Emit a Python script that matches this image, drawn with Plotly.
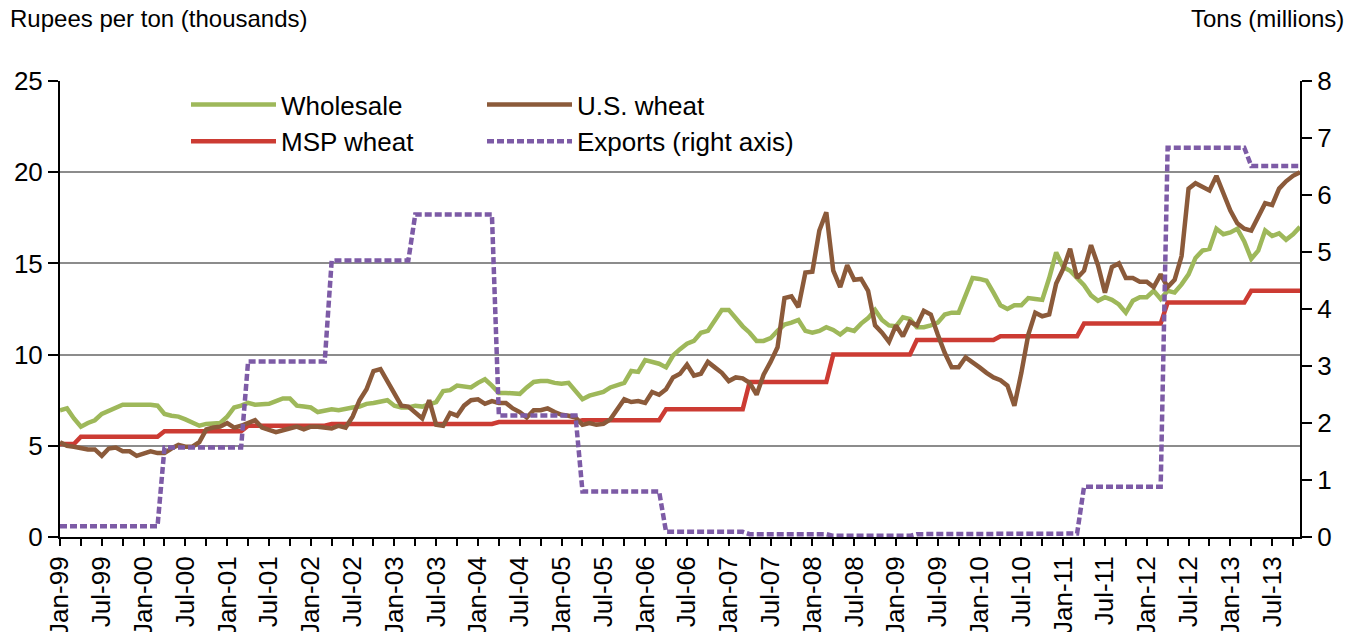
import plotly.graph_objects as go

# ---------------- data ----------------
tick_labels = ["Jan-99", "Jul-99", "Jan-00", "Jul-00", "Jan-01", "Jul-01", "Jan-02", "Jul-02",
               "Jan-03", "Jul-03", "Jan-04", "Jul-04", "Jan-05", "Jul-05", "Jan-06", "Jul-06",
               "Jan-07", "Jul-07", "Jan-08", "Jul-08", "Jan-09", "Jul-09", "Jan-10", "Jul-10",
               "Jan-11", "Jul-11", "Jan-12", "Jul-12", "Jan-13", "Jul-13"]

# monthly, Jan-99 .. Nov-13 (thousand rupees per ton)
wholesale = [
    6.95, 7.05, 6.5, 6.05, 6.25, 6.4, 6.75, 6.9, 7.05, 7.25,
    7.25, 7.25, 7.3, 7.25, 7.2, 6.75, 6.65, 6.6, 6.45, 6.3,
    6.1, 6.2, 6.2, 6.25, 6.6, 7.1, 7.2, 7.35, 7.25, 7.25,
    7.3, 7.45, 7.6, 7.6, 7.2, 7.15, 7.1, 6.85, 6.95, 7.0,
    6.95, 7.05, 7.1, 7.15, 7.3, 7.35, 7.4, 7.5, 7.2, 7.1,
    7.1, 7.2, 7.15, 7.25, 7.4, 8.0, 8.05, 8.3, 8.25, 8.2,
    8.45, 8.65, 8.3, 7.9, 7.9, 7.9, 7.85, 8.2, 8.5, 8.55,
    8.55, 8.45, 8.4, 8.45, 8.0, 7.55, 7.75, 7.85, 7.95, 8.2,
    8.35, 8.45, 9.1, 9.05, 9.7, 9.6, 9.5, 9.3, 9.95, 10.3,
    10.6, 10.75, 11.2, 11.3, 11.9, 12.45, 12.45, 12.0, 11.55, 11.2,
    10.75, 10.75, 10.9, 11.3, 11.65, 11.75, 11.9, 11.3, 11.2, 11.3,
    11.5, 11.35, 11.1, 11.4, 11.3, 11.7, 12.0, 12.45, 11.9, 11.6,
    11.55, 12.05, 11.95, 11.5, 11.5, 11.6, 11.75, 12.2, 12.3, 12.3,
    13.3, 14.2, 14.15, 14.05, 13.4, 12.7, 12.5, 12.7, 12.7, 13.1,
    13.05, 13.0, 14.2, 15.6, 14.8, 14.6, 14.2, 13.8, 13.25, 12.95,
    13.15, 13.0, 12.75, 12.3, 12.95, 13.15, 13.15, 13.5, 13.05, 13.5,
    13.4, 13.85, 14.4, 15.3, 15.7, 15.8, 16.9, 16.6, 16.7, 16.9,
    16.2, 15.25, 15.7, 16.8, 16.5, 16.65, 16.3, 16.6, 17.0,
]

us_wheat = [
    5.2, 5.0, 4.95, 4.85, 4.8, 4.8, 4.45, 4.85, 4.9, 4.7,
    4.7, 4.45, 4.6, 4.7, 4.6, 4.6, 4.85, 5.05, 4.95, 4.95,
    5.2, 5.9, 6.0, 6.05, 6.25, 6.0, 6.1, 6.25, 6.4, 6.0,
    5.85, 5.75, 5.85, 5.95, 6.05, 5.9, 6.05, 6.05, 6.0, 5.95,
    6.1, 6.0, 6.6, 7.5, 8.1, 9.1, 9.2, 8.5, 7.8, 7.2,
    7.15, 6.8, 6.5, 7.5, 6.15, 6.1, 6.8, 6.65, 7.2, 7.5,
    7.55, 7.3, 7.45, 7.35, 7.35, 7.05, 6.85, 6.55, 6.95, 6.95,
    7.05, 6.85, 6.7, 6.65, 6.55, 6.15, 6.25, 6.15, 6.2, 6.45,
    7.0, 7.55, 7.4, 7.45, 7.35, 7.95, 7.8, 8.1, 8.75, 8.95,
    9.45, 8.85, 8.95, 9.6, 9.3, 9.0, 8.55, 8.75, 8.7, 8.45,
    7.8, 8.9, 9.6, 10.4, 13.1, 13.2, 12.6, 14.5, 14.55, 16.8,
    17.8, 14.6, 13.7, 14.9, 14.1, 14.15, 13.5, 11.6, 11.2, 10.7,
    11.6, 11.0, 11.8, 11.6, 12.4, 12.2, 11.1, 10.1, 9.3, 9.3,
    9.85, 9.6, 9.3, 9.0, 8.75, 8.6, 8.3, 7.2, 9.0, 11.1,
    12.3, 12.1, 12.2, 13.9, 14.7, 15.8, 14.2, 14.6, 16.0, 14.9,
    13.4, 14.8, 15.0, 14.2, 14.2, 14.0, 14.0, 13.7, 14.4, 13.7,
    14.1, 15.4, 19.1, 19.4, 19.2, 19.0, 19.8, 18.9, 17.9, 17.2,
    16.9, 16.8, 17.5, 18.3, 18.2, 19.1, 19.5, 19.8, 20.0,
]

# minimum support price, changes each April
msp_wheat = ([5.1] * 3 + [5.5] * 12 + [5.8] * 12 + [6.1] * 12 + [6.2] * 24 + [6.3] * 12 +
             [6.4] * 12 + [7.0] * 12 + [8.5] * 12 + [10.0] * 12 + [10.8] * 12 + [11.0] * 12 +
             [11.7] * 12 + [12.85] * 12 + [13.5] * 8)

# exports, million tons per fiscal year (Apr-Mar)
exports = ([0.19] * 15 + [1.57] * 12 + [3.08] * 12 + [4.85] * 12 + [5.66] * 12 + [2.13] * 12 +
           [0.80] * 12 + [0.09] * 12 + [0.05] * 12 + [0.02] * 12 + [0.05] * 12 + [0.06] * 12 +
           [0.88] * 12 + [6.83] * 12 + [6.51] * 8)

months = list(range(len(wholesale)))

# ---------------- figure ----------------
FONT = "Liberation Sans, Arial, Helvetica, sans-serif"
OFF = 8                               # page body margin of the html output
PL, PT, PW, PH = 60, 81, 1240, 456    # plot area in page pixels

fig = go.Figure()
fig.add_trace(go.Scatter(x=months, y=wholesale, name="Wholesale", mode="lines",
                         line=dict(color="#9EB85A", width=4.5), legend="legend"))
fig.add_trace(go.Scatter(x=months, y=msp_wheat, name="MSP wheat", mode="lines",
                         line=dict(color="#CC3B33", width=4.5), legend="legend"))
fig.add_trace(go.Scatter(x=months, y=us_wheat, name="U.S. wheat", mode="lines",
                         line=dict(color="#8B5A3A", width=4.5), legend="legend2"))
fig.add_trace(go.Scatter(x=months, y=exports, name="Exports (right axis)", mode="lines",
                         line=dict(color="#7D5BA6", width=4.5, dash="7px,3px"),
                         yaxis="y2", legend="legend2"))

tickvals = list(range(0, len(months), 3))
ticktext = [tick_labels[v // 6] if v % 6 == 0 else "" for v in tickvals]

legend_common = dict(xref="paper", yref="paper", xanchor="left", yanchor="top",
                     bgcolor="rgba(0,0,0,0)", font=dict(size=26, family=FONT, color="black"),
                     itemwidth=85, orientation="v", tracegroupgap=0)
leg_top = (PT + PH - 81) / PH

L = PL - OFF
T = PT - OFF
fig.update_layout(
    width=1352, height=632,
    margin=dict(l=L, r=1352 - L - PW, t=T, b=632 - T - PH, autoexpand=False),
    plot_bgcolor="white", paper_bgcolor="white",
    font=dict(family=FONT, size=26, color="black"),
    xaxis=dict(range=[0, len(months) - 1], tickmode="array", tickvals=tickvals, ticktext=ticktext,
               tickangle=-90, ticks="outside", ticklen=7, tickwidth=2, tickcolor="black",
               showline=True, linecolor="black", linewidth=2, showgrid=False, zeroline=False,
               automargin=False, tickfont=dict(size=26)),
    yaxis=dict(range=[0, 25], tick0=0, dtick=5, ticks="outside", ticklen=10, tickwidth=2,
               tickcolor="black", showline=True, linecolor="black", linewidth=2,
               showgrid=True, gridcolor="#8C8C8C", gridwidth=1.5, zeroline=False,
               automargin=False, tickfont=dict(size=26)),
    yaxis2=dict(range=[0, 8], tick0=0, dtick=1, overlaying="y", side="right", ticks="outside",
                ticklen=10, tickwidth=2, tickcolor="black", showline=True, linecolor="black",
                linewidth=2, showgrid=False, zeroline=False, automargin=False,
                tickfont=dict(size=26)),
    legend=dict(x=(186 - PL) / PW, y=leg_top, **legend_common),
    legend2=dict(x=(482 - PL) / PW, y=leg_top, **legend_common),
    annotations=[
        dict(text="Rupees per ton (thousands)", xref="paper", yref="paper",
             x=(8 - PL) / PW, y=(PT + PH - 18) / PH, xanchor="left", yanchor="middle",
             showarrow=False, font=dict(size=24, family=FONT, color="black")),
        dict(text="Tons (millions)", xref="paper", yref="paper",
             x=(1346 - PL) / PW, y=(PT + PH - 18) / PH, xanchor="right", yanchor="middle",
             showarrow=False, font=dict(size=24, family=FONT, color="black")),
    ],
)

fig.write_html("out.html")
